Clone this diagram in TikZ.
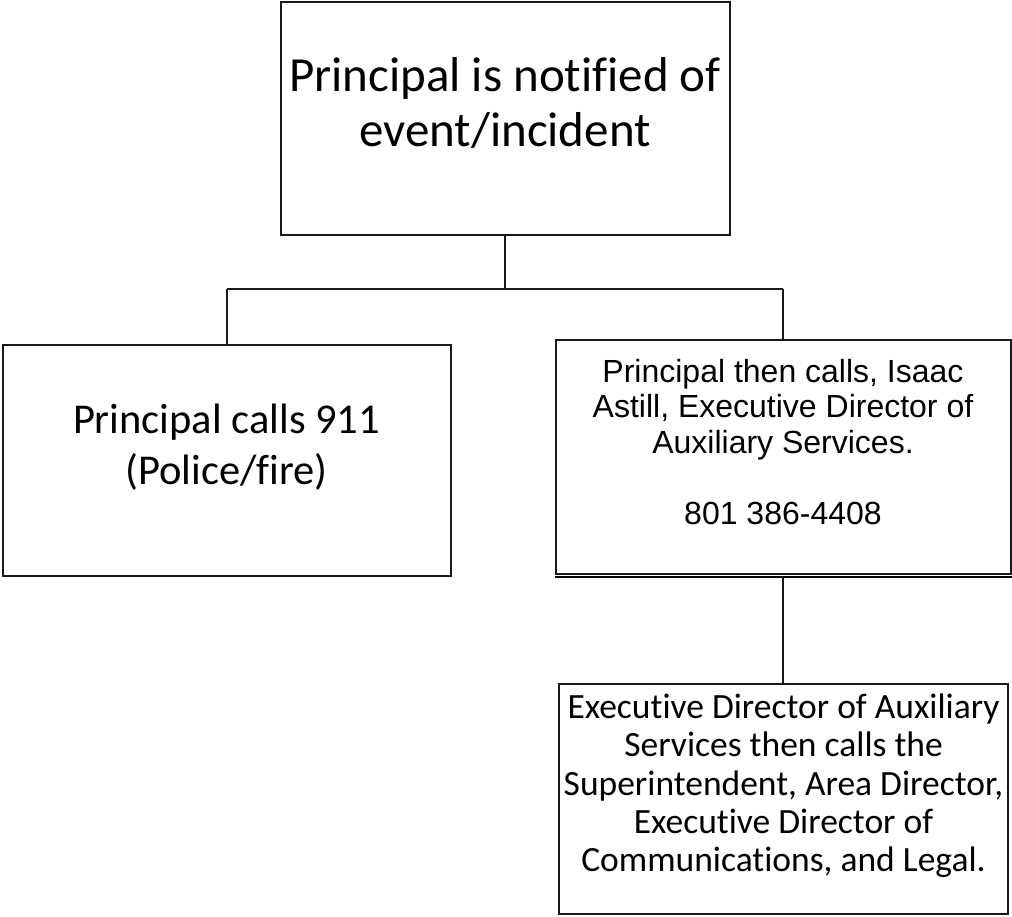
\documentclass[tikz,border=0pt]{standalone}
\usepackage{fontspec}
\setmainfont[Ligatures=NoCommon]{Carlito}
\newfontfamily\arialf{Liberation Sans}
\begin{document}
\begin{tikzpicture}[x=1pt,y=-1pt,
  box/.style={draw=black!90,line width=2pt,rectangle,inner sep=0pt},
  conn/.style={draw=black!90,line width=2pt},
  txt/.style={align=center,inner sep=0pt,text=black}]
\useasboundingbox (0,0) rectangle (1012,916);
% boxes
\node[box,minimum width=449pt,minimum height=233pt] (top) at (505,118.5) {};
\node[box,minimum width=448pt,minimum height=231pt] (left) at (226.5,460) {};
\node[box,minimum width=455pt,minimum height=234pt] (right) at (783,457) {};
\node[box,minimum width=449pt,minimum height=230pt] (bot) at (783.5,799) {};
\draw[line width=2pt] ([yshift=-2pt]right.south west) -- ([yshift=-2pt]right.south east);
% texts
\node[txt,font=\fontsize{49}{55}\selectfont] (ttop) at (505,103) {Principal is notified of\\event/incident};
\node[txt,font=\fontsize{42.5}{51}\selectfont] (tleft) at (226.5,447) {Principal calls 911\\(Police/fire)};
\node[txt,font=\arialf\fontsize{32}{35.5}\selectfont] (tright) at (783,442) {Principal then calls, Isaac\\Astill, Executive Director of\\Auxiliary Services.\\[35.5pt]801 386-4408};
\node[txt,font=\fontsize{35.5}{38.3}\selectfont] (tbot) at (783.5,786) {Executive Director of Auxiliary\\Services then calls the\\Superintendent, Area Director,\\Executive Director of\\Communications, and Legal.};
% connectors
\coordinate (j) at (top.south |- 0,289);
\draw[conn] (top.south) -- (j);
\draw[conn] (left.north |- j) -- (right.north |- j);
\draw[conn] (left.north |- j) -- (left.north);
\draw[conn] (right.north |- j) -- (right.north);
\draw[conn] ([yshift=-2pt]right.south) -- (right.south |- bot.north);
\end{tikzpicture}
\end{document}
